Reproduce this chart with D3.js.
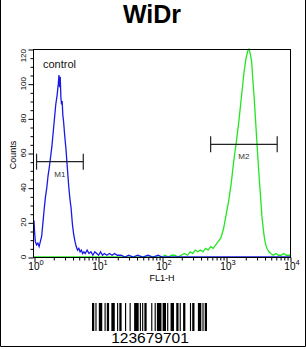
<!DOCTYPE html>
<html>
<head>
<meta charset="utf-8">
<script src="https://cdn.jsdelivr.net/npm/d3@7"></script>
<style>
	body { margin: 0; background: #fff; }
	text { font-family: "Liberation Sans", Arial, sans-serif; }
</style>
</head>
<body>
<svg id="chart"></svg>
<script>

var W = 306, H = 349;

// histogram data: FL1-H given as decade exponent, then counts
var blueExp = [0.00, 0.01, 0.02, 0.04, 0.06, 0.08, 0.10, 0.12, 0.14, 0.16, 0.18, 0.20, 0.22, 0.24, 0.26, 0.28, 0.30, 0.32, 0.34, 0.36, 0.38, 0.39, 0.40, 0.41, 0.42, 0.43, 0.44, 0.45, 0.46, 0.48, 0.50, 0.52, 0.54, 0.56, 0.58, 0.60, 0.62, 0.64, 0.66, 0.68, 0.70, 0.72, 0.74, 0.76, 0.78, 0.80, 0.83, 0.86, 0.89, 0.92, 0.95, 0.98, 1.01, 1.04, 1.07, 1.10, 1.14, 1.18, 1.22, 1.26, 1.30, 1.36, 1.42, 1.48, 1.55, 1.62, 1.70, 1.78, 1.86, 1.94, 2.00, 4.00];
var blueCount = [21, 14, 9, 7, 8, 6, 9, 12, 20, 28, 35, 40, 47, 52, 58, 64, 72, 80, 88, 93, 100, 105, 98, 104, 92, 88, 90, 82, 79, 70, 62, 52, 42, 34, 28, 19, 13, 9, 6, 4, 5, 3, 4, 2, 3, 2, 4, 2, 3, 1, 3, 2, 1, 3, 1, 2, 1, 2, 1, 2, 1, 1, 0, 1, 0, 1, 0, 1, 0, 1, 0, 0];

var greenExp = [0.00, 2.00, 2.05, 2.10, 2.15, 2.20, 2.25, 2.30, 2.35, 2.40, 2.44, 2.48, 2.52, 2.56, 2.60, 2.64, 2.68, 2.72, 2.76, 2.80, 2.84, 2.88, 2.92, 2.96, 3.00, 3.04, 3.08, 3.12, 3.16, 3.20, 3.24, 3.28, 3.31, 3.34, 3.36, 3.38, 3.40, 3.42, 3.44, 3.46, 3.48, 3.50, 3.52, 3.54, 3.56, 3.58, 3.60, 3.62, 3.64, 3.67, 3.70, 3.74, 3.78, 3.82, 3.86, 3.90, 3.94, 3.98, 4.00];
var greenCount = [0, 0, 1, 0, 1, 1, 0, 1, 2, 1, 3, 2, 4, 3, 4, 3, 5, 4, 6, 5, 7, 9, 11, 16, 24, 32, 42, 55, 66, 78, 92, 106, 114, 119, 120, 117, 113, 102, 92, 80, 68, 56, 45, 35, 24, 17, 11, 7, 5, 3, 2, 1, 2, 1, 1, 2, 1, 1, 1];

// gate markers
var markerNames = ["M1", "M2"];
var markerFrom = [0.04, 2.76];
var markerTo = [0.77, 3.80];
var markerLevel = [55, 65];

var yTicks = [0, 20, 40, 60, 80, 100, 120];
var xDecades = [0, 1, 2, 3, 4];

var barcodeText = "123679701";
// code 128 module widths (bar, space, bar, ...)
var barcodeWidths = "211232" + "112232" + "112313" + "134111" + "112412" + "114131" + "123221" + "122411" + "2331112";

var m = {left: 34, top: 49, right: 290, bottom: 257};

var xScale = d3.scaleLog().domain([1, 1e4]).range([m.left, m.right]);
var yScale = d3.scaleLinear().domain([0, 120]).range([m.bottom, m.top]);

var svg = d3.select("#chart")
	.attr("width", W)
	.attr("height", H);

svg.append("rect")
	.attr("width", W)
	.attr("height", H)
	.attr("fill", "#fff");

// outer frame
svg.append("path")
	.attr("d", "M0.5,0V346.5H305.5V0")
	.attr("fill", "none")
	.attr("stroke", "#000");

svg.append("text")
	.attr("x", 152)
	.attr("y", 23)
	.attr("text-anchor", "middle")
	.style("font-size", "25px")
	.style("font-weight", "bold")
	.text("WiDr");

svg.append("clipPath")
	.attr("id", "plotclip")
	.append("rect")
	.attr("x", m.left)
	.attr("y", m.top - 1)
	.attr("width", m.right - m.left)
	.attr("height", m.bottom - m.top + 1);

function toPoints(ex, ct) {
	return ex.map(function(e, i) { return [Math.pow(10, e), ct[i]]; });
}

var line = d3.line()
	.x(function(d) { return xScale(d[0]); })
	.y(function(d) { return yScale(d[1]); });

var plot = svg.append("g").attr("clip-path", "url(#plotclip)");

plot.append("path")
	.attr("d", line(toPoints(greenExp, greenCount)))
	.attr("fill", "none")
	.attr("stroke", "#22e622")
	.attr("stroke-width", 1.3);

plot.append("path")
	.attr("d", line(toPoints(blueExp, blueCount)))
	.attr("fill", "none")
	.attr("stroke", "#1a1ae6")
	.attr("stroke-width", 1.3);

// plot box
svg.append("rect")
	.attr("x", m.left - 0.5)
	.attr("y", m.top + 0.5)
	.attr("width", m.right - m.left + 1)
	.attr("height", m.bottom - m.top)
	.attr("fill", "none")
	.attr("stroke", "#000");

// y axis
var yAxis = d3.axisLeft(yScale)
	.tickValues(d3.range(0, 121, 5))
	.tickSize(3)
	.tickFormat("");
var yg = svg.append("g")
	.attr("transform", "translate(" + (m.left - 0.5) + ",0.5)")
	.call(yAxis);
yg.select(".domain").remove();
yg.selectAll(".tick line")
	.attr("x2", function(d) { return d % 20 === 0 ? -5 : -3; });

svg.selectAll(".ylab")
	.data(yTicks)
	.enter()
	.append("text")
	.attr("class", "ylab")
	.attr("transform", function(d) {
		return "translate(26," + yScale(d) + ") rotate(-90)";
	})
	.attr("text-anchor", function(d) { return d === 120 ? "end" : "middle"; })
	.style("font-size", "8px")
	.text(function(d) { return d; });

svg.append("text")
	.attr("transform", "translate(16,155) rotate(-90)")
	.attr("text-anchor", "middle")
	.style("font-size", "9px")
	.text("Counts");

// x axis, log ticks
var xAxis = d3.axisBottom(xScale)
	.tickValues(xScale.ticks())
	.tickSize(3)
	.tickFormat("");
var xg = svg.append("g")
	.attr("transform", "translate(0.5," + (m.bottom + 0.5) + ")")
	.call(xAxis);
xg.select(".domain").remove();
xg.selectAll(".tick line")
	.attr("y2", function(d) {
		return Math.abs(Math.log10(d) - Math.round(Math.log10(d))) < 1e-9 ? 5 : 3;
	});

var xl = svg.selectAll(".xlab")
	.data(xDecades)
	.enter()
	.append("text")
	.attr("class", "xlab")
	.attr("x", function(d) { return xScale(Math.pow(10, d)) + 2; })
	.attr("y", 270)
	.attr("text-anchor", "middle")
	.style("font-size", "10px");
xl.append("tspan").text("10");
xl.append("tspan")
	.attr("dy", -5)
	.style("font-size", "7.5px")
	.text(function(d) { return d; });

svg.append("text")
	.attr("x", 162)
	.attr("y", 281)
	.attr("text-anchor", "middle")
	.style("font-size", "9px")
	.text("FL1-H");

svg.append("text")
	.attr("x", 43)
	.attr("y", 68)
	.style("font-size", "11px")
	.attr("fill", "#111")
	.text("control");

// markers
var mk = svg.selectAll(".marker")
	.data(markerNames)
	.enter()
	.append("g")
	.attr("class", "marker")
	.attr("stroke", "#222")
	.attr("stroke-width", 1.2);

mk.append("line")
	.attr("x1", function(d, i) { return xScale(Math.pow(10, markerFrom[i])); })
	.attr("x2", function(d, i) { return xScale(Math.pow(10, markerTo[i])); })
	.attr("y1", function(d, i) { return yScale(markerLevel[i]); })
	.attr("y2", function(d, i) { return yScale(markerLevel[i]); });

mk.append("line")
	.attr("x1", function(d, i) { return xScale(Math.pow(10, markerFrom[i])); })
	.attr("x2", function(d, i) { return xScale(Math.pow(10, markerFrom[i])); })
	.attr("y1", function(d, i) { return yScale(markerLevel[i]) - 8; })
	.attr("y2", function(d, i) { return yScale(markerLevel[i]) + 8; });

mk.append("line")
	.attr("x1", function(d, i) { return xScale(Math.pow(10, markerTo[i])); })
	.attr("x2", function(d, i) { return xScale(Math.pow(10, markerTo[i])); })
	.attr("y1", function(d, i) { return yScale(markerLevel[i]) - 8; })
	.attr("y2", function(d, i) { return yScale(markerLevel[i]) + 8; });

mk.append("text")
	.attr("x", function(d, i) {
		return (xScale(Math.pow(10, markerFrom[i])) + xScale(Math.pow(10, markerTo[i]))) / 2;
	})
	.attr("y", function(d, i) { return yScale(markerLevel[i]) + 15; })
	.attr("text-anchor", "middle")
	.attr("stroke", "none")
	.attr("fill", "#333")
	.style("font-size", "8px")
	.text(function(d) { return d; });

// barcode
var widths = barcodeWidths.split("").map(Number);
var bx = d3.scaleLinear().domain([0, d3.sum(widths)]).range([92, 207]);
var bars = [];
var pos = 0;
widths.forEach(function(w, i) {
	if (i % 2 === 0) bars.push({start: pos, w: w});
	pos += w;
});

svg.append("g")
	.selectAll("rect")
	.data(bars)
	.enter()
	.append("rect")
	.attr("x", function(d) { return bx(d.start); })
	.attr("width", function(d) { return bx(d.start + d.w) - bx(d.start); })
	.attr("y", 303)
	.attr("height", 28)
	.attr("fill", "#000");

svg.append("text")
	.attr("x", 150)
	.attr("y", 343)
	.attr("text-anchor", "middle")
	.style("font-size", "15.5px")
	.text(barcodeText);

</script>
</body>
</html>
